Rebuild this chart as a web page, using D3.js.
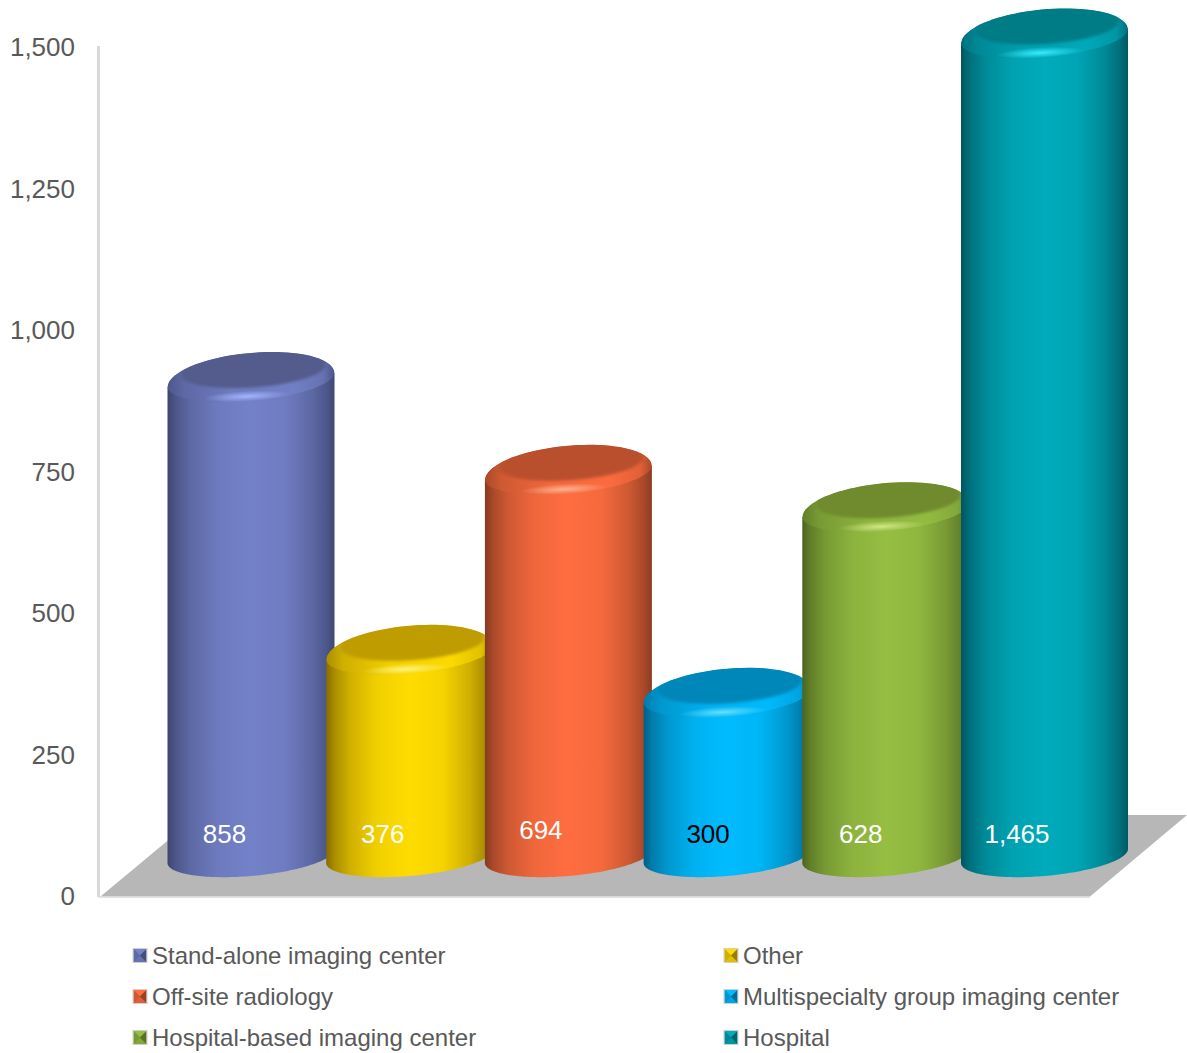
<!DOCTYPE html>
<html><head><meta charset="utf-8">
<style>html,body{margin:0;padding:0;background:#fff;overflow:hidden}svg{display:block}text{font-family:"Liberation Sans",Arial,sans-serif}</style>
<script src="https://cdn.jsdelivr.net/npm/d3@7"></script>
</head><body><div id="c"></div>
<script>
const categories = ["Stand-alone imaging center","Other","Off-site radiology","Multispecialty group imaging center","Hospital-based imaging center","Hospital"];
const values = [858,376,694,300,628,1465];
const tickValues = [0,250,500,750,1000,1250,1500];
const mainColors = ["#7381c8","#ffdc00","#ff6d40","#00bcff","#95be42","#00abbb"];
const edgeColors = ["#3d4570","#866c00","#853a20","#005f85","#4c6420","#005560"];
const discColors = ["#535c8c","#bf9d00","#ba4f2e","#0087b9","#6f8a2e","#007b87"];
const glowColors = ["#a3b3ff","#fff27a","#ffb18f","#66e0ff","#cfe884","#38ecff"];
const labelColors = ["#fff","#fff","#fff","#000","#fff","#fff"];
const labelDx = [1,0.5,0,8.5,2.5,0];
const labelDy = [0,0,-4,0,0,0];

const W=1187,H=1053;
const svg=d3.select("#c").append("svg").attr("width",W).attr("height",H);
const defs=svg.append("defs");
const y=d3.scaleLinear().domain([0,1500]).range([895,46]);
const x=d3.scalePoint().domain(categories).range([251,1044.5]);
const bw=83.5, shear=-7;
const baseY=y(0)-39;
const topY=v=>y(v)-33;

// sheared ellipse outline, with separate upper and lower half-heights
function ell(cx,cy,w,hUp,hDown,s,a0=0,a1=2*Math.PI,n=90){
  return d3.range(n+1).map(i=>{const t=a0+(a1-a0)*i/n, sn=Math.sin(t);
    return [cx+w*Math.cos(t), cy+s*Math.cos(t)+(sn>0?hDown:hUp)*sn];});
}
const line=d3.line();

defs.append("filter").attr("id","b1").attr("x","-20%").attr("y","-40%").attr("width","140%").attr("height","180%")
  .append("feGaussianBlur").attr("stdDeviation",1.8);

categories.forEach((c,i)=>{
  const m=d3.interpolateRgb(edgeColors[i],mainColors[i]);
  const g=defs.append("linearGradient").attr("id","body"+i);
  [[0,0],[.05,.3],[.14,.6],[.3,.88],[.5,1],[.7,.92],[.86,.6],[.95,.3],[1,.04]].forEach(([o,k])=>
    g.append("stop").attr("offset",o).attr("stop-color",m(k)));
  const r=defs.append("linearGradient").attr("id","rim"+i);
  [[0,.3],[.1,.6],[.4,.9],[.75,.97],[.93,.75],[1,.3]].forEach(([o,k])=>
    r.append("stop").attr("offset",o).attr("stop-color",m(k)));
  const s=defs.append("radialGradient").attr("id","glow"+i);
  s.append("stop").attr("offset",0).attr("stop-color",glowColors[i]).attr("stop-opacity",1);
  s.append("stop").attr("offset",1).attr("stop-color",glowColors[i]).attr("stop-opacity",0);
});

const axisX=98.5;
svg.append("line").attr("x1",axisX).attr("x2",axisX).attr("y1",y(1500)).attr("y2",y(0)+2)
  .attr("stroke","#d9d9d9").attr("stroke-width",3);

const floorFront=y(0)+1.5, floorBack=815;
svg.append("path").attr("fill","#b7b7b7").attr("d",line([
  [axisX+2,floorFront],[1090,floorFront],[1187,floorBack],[axisX+100,floorBack]])+"Z");
svg.append("line").attr("x1",axisX).attr("x2",1090).attr("y1",floorFront+.5).attr("y2",floorFront+.5)
  .attr("stroke","#d9d9d9").attr("stroke-width",1.5);

svg.append("g").selectAll("text").data(tickValues).join("text")
  .attr("x",75).attr("y",d=>y(d)+1).attr("dy","0.36em").attr("text-anchor","end")
  .attr("font-size",26).attr("fill","#595959").text(d3.format(","));

categories.forEach((c,i)=>{
  const cx=x(c), ty=topY(values[i]), cy=ty+3.5;
  const g=svg.append("g");
  const bottom=ell(cx,baseY,bw,20,20,shear,0,Math.PI);
  g.append("path").attr("fill",`url(#body${i})`)
    .attr("d",line([[cx+bw,cy+shear],...bottom,[cx-bw,cy-shear]])+"Z");
  const capPts=ell(cx,cy,bw,27,21,shear);
  const cid="cap"+i;
  defs.append("clipPath").attr("id",cid).append("path").attr("d",line(capPts)+"Z");
  const cap=g.append("g").attr("clip-path",`url(#${cid})`);
  cap.append("path").attr("fill",`url(#rim${i})`).attr("d",line(capPts)+"Z");
  cap.append("ellipse").attr("cx",cx-4).attr("cy",ty+20).attr("rx",44).attr("ry",5.5)
    .attr("fill",`url(#glow${i})`).attr("transform",`rotate(-3 ${cx-4} ${ty+20})`);
  cap.append("path").attr("fill",discColors[i]).attr("filter","url(#b1)")
    .attr("d",line(ell(cx+2.5,ty-6.5,72,30,17.5,-5))+"Z");
  g.append("text").attr("x",cx-27.5+labelDx[i]).attr("y",834+labelDy[i]).attr("dy","0.36em")
    .attr("text-anchor","middle").attr("font-size",26).attr("fill",labelColors[i])
    .text(d3.format(",")(values[i]));
});

const legCols=[133.5,724.5], legRows=[955.5,996.5,1037.5], sz=13;
const lg=svg.append("g");
categories.forEach((c,i)=>{
  const lx=legCols[i%2], ly=legRows[Math.floor(i/2)];
  const s=lg.append("g").attr("transform",`translate(${lx},${ly-sz/2})`);
  const mid=[sz/2,sz/2];
  const m=d3.interpolateRgb(edgeColors[i],mainColors[i]);
  s.append("rect").attr("width",sz).attr("height",sz).attr("fill",m(.6));
  [[[0,0],[sz,0],mid,m(1)],[[0,sz],[sz,sz],mid,m(.75)],[[0,0],[0,sz],mid,m(.6)],[[sz,0],[sz,sz],mid,m(.15)]]
   .forEach(t=>s.append("path").attr("fill",t[3]).attr("d",line(t.slice(0,3))+"Z"));
  s.append("rect").attr("x",-.5).attr("y",-.5).attr("width",sz+1).attr("height",sz+1)
    .attr("fill","none").attr("stroke","#cfcfcf").attr("stroke-width",1);
  lg.append("text").attr("x",lx+18.5).attr("y",ly-.5).attr("dy","0.36em")
    .attr("font-size",24).attr("fill","#595959").text(c);
});
</script></body></html>
